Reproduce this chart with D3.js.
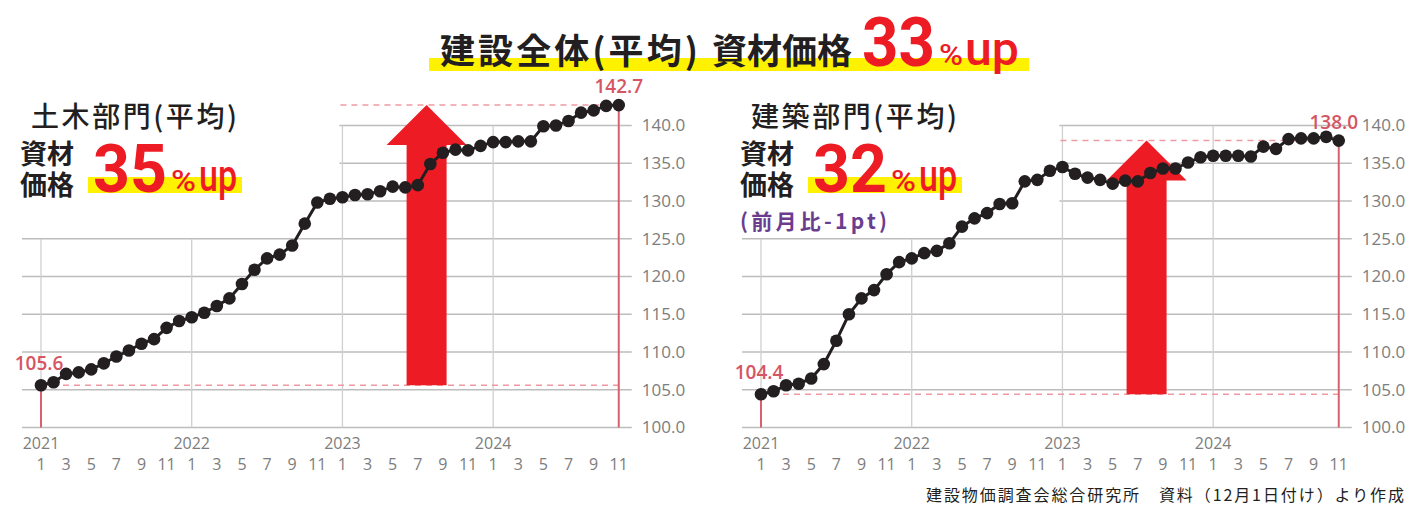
<!DOCTYPE html>
<html>
<head>
<meta charset="utf-8">
<script src="https://cdn.jsdelivr.net/npm/d3@7"></script>
<style>
  body { margin: 0; background: #fff; }
  text { font-family: "Noto Sans CJK JP", sans-serif; }
  .num { font-family: "Open Sans", "Noto Sans", sans-serif; }
  .big { font-family: Roboto, "Liberation Sans", sans-serif; }
</style>
</head>
<body>
<script>
// 建設物価 資材価格指数 (2021年1月 〜 2024年11月)
var years = [2021, 2022, 2023, 2024];
var monthTicks = [1, 3, 5, 7, 9, 11];
var yTicks = [100, 105, 110, 115, 120, 125, 130, 135, 140];

var civil = [105.6, 106.0, 107.1, 107.3, 107.7, 108.5, 109.4, 110.2, 111.1, 111.7, 113.2, 114.1,
             114.6, 115.2, 116.1, 117.1, 119.0, 120.9, 122.4, 122.9, 124.1, 127.0, 129.8, 130.3,
             130.5, 130.8, 130.9, 131.3, 131.9, 131.8, 132.1, 134.9, 136.4, 136.8, 136.7, 137.3,
             137.8, 137.8, 137.9, 137.9, 139.9, 140.0, 140.6, 141.7, 142.0, 142.6, 142.7];

var building = [104.4, 104.8, 105.6, 105.8, 106.5, 108.4, 111.5, 115.0, 117.1, 118.2, 120.3, 121.9,
                122.4, 123.1, 123.4, 124.4, 126.6, 127.7, 128.4, 129.6, 129.7, 132.6, 132.8, 134.0,
                134.5, 133.6, 133.1, 132.8, 132.3, 132.7, 132.6, 133.7, 134.3, 134.3, 135.1, 135.8,
                136.0, 136.0, 136.0, 135.9, 137.2, 136.9, 138.2, 138.3, 138.3, 138.5, 138.0];

var arrowMonth = 30.7; // 矢印の位置 (2023年8月ごろ)

var W = 1407, H = 507;
var RED = "#ed1c24", YELLOW = "#fff200", INK = "#231f20";

var svg = d3.select("body").append("svg")
    .attr("width", W)
    .attr("height", H);

var y = d3.scaleLinear()
    .domain([100, 140])
    .range([427.5, 125.5]);

function monthIndex(yr, m) {
    return (yr - years[0]) * 12 + (m - 1);
}

function drawPanel(data, x0, opts) {
    var n = data.length - 1;
    var x = d3.scaleLinear()
        .domain([0, n])
        .range([x0, x0 + n * 12.56]);
    var g = svg.append("g");
    var first = data[0], last = data[n];
    var left = x(0) - 19, right = x(n) + 13;
    var cut = x(monthIndex(2023, 1)) - 3;

    // horizontal grid
    g.selectAll(".hgrid")
        .data(yTicks)
        .enter()
        .append("line")
        .attr("x1", function(d) { return d > 125 ? cut : left; })
        .attr("x2", right)
        .attr("y1", function(d) { return y(d); })
        .attr("y2", function(d) { return y(d); })
        .style("stroke", "#bdbdbd")
        .style("stroke-width", 1.3);

    // vertical grid (January of each year)
    g.selectAll(".vgrid")
        .data(years)
        .enter()
        .append("line")
        .attr("x1", function(d) { return x(monthIndex(d, 1)); })
        .attr("x2", function(d) { return x(monthIndex(d, 1)); })
        .attr("y1", function(d) { return d >= 2023 ? y(140) : y(125); })
        .attr("y2", y(100))
        .style("stroke", "#cfcfcf")
        .style("stroke-width", 1.3);

    // dashed reference lines
    g.append("line")
        .attr("x1", x(0)).attr("x2", x(n))
        .attr("y1", y(first)).attr("y2", y(first))
        .style("stroke", "#ef9aa2")
        .style("stroke-width", 1.5)
        .style("stroke-dasharray", "6, 5");
    g.append("line")
        .attr("x1", cut + 1).attr("x2", x(n))
        .attr("y1", y(last)).attr("y2", y(last))
        .style("stroke", "#ef9aa2")
        .style("stroke-width", 1.5)
        .style("stroke-dasharray", "6, 5");

    // red drop lines
    [[0, first], [n, last]].forEach(function(p) {
        g.append("line")
            .attr("x1", x(p[0])).attr("x2", x(p[0]))
            .attr("y1", y(p[1])).attr("y2", y(100))
            .style("stroke", "#d9606c")
            .style("stroke-width", 2);
    });

    // big arrow
    var cx = x(arrowMonth), yb = y(first), yt = y(last);
    var pts = [[cx - 20, yb], [cx - 20, yt + 40], [cx - 40, yt + 40], [cx, yt],
               [cx + 40, yt + 40], [cx + 20, yt + 40], [cx + 20, yb]];
    g.append("path")
        .attr("d", d3.line()(pts) + "Z")
        .style("fill", RED);

    // line + dots
    g.append("path")
        .datum(data)
        .attr("d", d3.line()
            .x(function(d, i) { return x(i); })
            .y(function(d) { return y(d); }))
        .style("fill", "none")
        .style("stroke", INK)
        .style("stroke-width", 3);
    g.selectAll(".dot")
        .data(data)
        .enter()
        .append("circle")
        .attr("cx", function(d, i) { return x(i); })
        .attr("cy", function(d) { return y(d); })
        .attr("r", 6.3)
        .style("fill", INK);

    // y axis labels
    var yAxis = d3.axisRight(y)
        .tickValues(yTicks)
        .tickFormat(d3.format(".1f"))
        .tickSize(0)
        .tickPadding(0);
    var ya = g.append("g")
        .attr("class", "num")
        .attr("transform", "translate(" + (x(n) + 23) + ",0)")
        .call(yAxis);
    ya.select(".domain").remove();
    ya.selectAll("text")
        .attr("class", "num")
        .style("font-size", "17px")
        .style("fill", "#7d7d7d");

    // month labels
    var monthData = [];
    years.forEach(function(yr) {
        monthTicks.forEach(function(m) {
            if (monthIndex(yr, m) <= n) monthData.push({ yr: yr, m: m });
        });
    });
    g.selectAll(".mlab")
        .data(monthData)
        .enter()
        .append("text")
        .attr("class", "num")
        .text(function(d) { return d.m; })
        .attr("x", function(d) { return x(monthIndex(d.yr, d.m)); })
        .attr("y", 470)
        .attr("text-anchor", "middle")
        .style("font-size", "16px")
        .style("fill", "#7d7d7d");
    g.selectAll(".ylab")
        .data(years)
        .enter()
        .append("text")
        .attr("class", "num")
        .text(function(d) { return d; })
        .attr("x", function(d) { return x(monthIndex(d, 1)); })
        .attr("y", 449)
        .attr("text-anchor", "middle")
        .style("font-size", "16px")
        .style("fill", "#7d7d7d");

    // start / end value labels
    g.append("text")
        .attr("class", "num")
        .text(d3.format(".1f")(first))
        .attr("x", x(0) - 2)
        .attr("y", y(first) - 15)
        .attr("text-anchor", "middle")
        .style("font-size", "19px")
        .style("font-weight", 600)
        .style("fill", "#d65563");
    g.append("text")
        .attr("class", "num")
        .text(d3.format(".1f")(last))
        .attr("x", x(n) + opts.endDx)
        .attr("y", y(last) - 12)
        .attr("text-anchor", "middle")
        .style("font-size", "19px")
        .style("font-weight", 600)
        .style("fill", "#d65563");

    // headline block
    var hx = x0 - 21;
    g.append("text")
        .text(opts.title)
        .attr("x", hx + 11)
        .attr("y", 127)
        .attr("textLength", 206)
        .style("font-size", "28px")
        .style("font-weight", 500)
        .style("fill", INK);
    g.append("rect")
        .attr("x", hx + 68).attr("y", 177)
        .attr("width", 154).attr("height", 16)
        .style("fill", YELLOW);
    var two = g.append("text")
        .attr("y", 164)
        .style("font-size", "27px")
        .style("font-weight", 700)
        .style("fill", INK);
    two.append("tspan").attr("x", hx).text("資材");
    two.append("tspan").attr("x", hx).attr("dy", 31).text("価格");
    g.append("text")
        .attr("class", "big")
        .text(opts.pct)
        .attr("x", hx + 73).attr("y", 192)
        .attr("textLength", 74)
        .attr("lengthAdjust", "spacingAndGlyphs")
        .style("font-size", "67px")
        .style("font-weight", 700)
        .style("fill", RED);
    g.append("text")
        .attr("class", "big")
        .text("%")
        .attr("x", hx + 151).attr("y", 191)
        .attr("textLength", 25)
        .attr("lengthAdjust", "spacingAndGlyphs")
        .style("font-size", "30px")
        .style("font-weight", 500)
        .style("fill", RED);
    g.append("text")
        .attr("class", "big")
        .text("up")
        .attr("x", hx + 179).attr("y", 191)
        .attr("textLength", 38)
        .attr("lengthAdjust", "spacingAndGlyphs")
        .style("font-size", "44px")
        .style("font-weight", 500)
        .style("fill", RED);
    if (opts.note) {
        g.append("text")
            .text(opts.note)
            .attr("x", hx).attr("y", 229)
            .attr("textLength", 147)
            .style("font-size", "21px")
            .style("font-weight", 700)
            .style("fill", "#6a3d8f");
    }
}

drawPanel(civil, 41, { title: "土木部門(平均)", pct: "35", endDx: 0 });
drawPanel(building, 761, { title: "建築部門(平均)", pct: "32", endDx: -5, note: "(前月比-1pt)" });

// main title
svg.append("rect")
    .attr("x", 429).attr("y", 58)
    .attr("width", 600).attr("height", 13)
    .style("fill", YELLOW);
svg.append("text")
    .text("建設全体(平均)")
    .attr("x", 440).attr("y", 64)
    .attr("textLength", 258)
    .style("font-size", "35px")
    .style("font-weight", 700)
    .style("fill", INK);
svg.append("text")
    .text("資材価格")
    .attr("x", 712).attr("y", 64)
    .style("font-size", "35px")
    .style("font-weight", 700)
    .style("fill", INK);
svg.append("text")
    .attr("class", "big")
    .text("33")
    .attr("x", 862).attr("y", 66)
    .attr("textLength", 73)
    .attr("lengthAdjust", "spacingAndGlyphs")
    .style("font-size", "69px")
    .style("font-weight", 700)
    .style("fill", RED);
svg.append("text")
    .attr("class", "big")
    .text("%")
    .attr("x", 939).attr("y", 65)
    .attr("textLength", 24)
    .attr("lengthAdjust", "spacingAndGlyphs")
    .style("font-size", "30px")
    .style("font-weight", 500)
    .style("fill", RED);
svg.append("text")
    .attr("class", "big")
    .text("up")
    .attr("x", 965).attr("y", 65)
    .attr("textLength", 54)
    .attr("lengthAdjust", "spacingAndGlyphs")
    .style("font-size", "46px")
    .style("font-weight", 500)
    .style("fill", RED);

// source
svg.append("text")
    .text("建設物価調査会総合研究所　資料（12月1日付け）より作成")
    .attr("x", 1404).attr("y", 501)
    .attr("text-anchor", "end")
    .attr("textLength", 478)
    .style("font-size", "16px")
    .style("fill", INK);
</script>
</body>
</html>
